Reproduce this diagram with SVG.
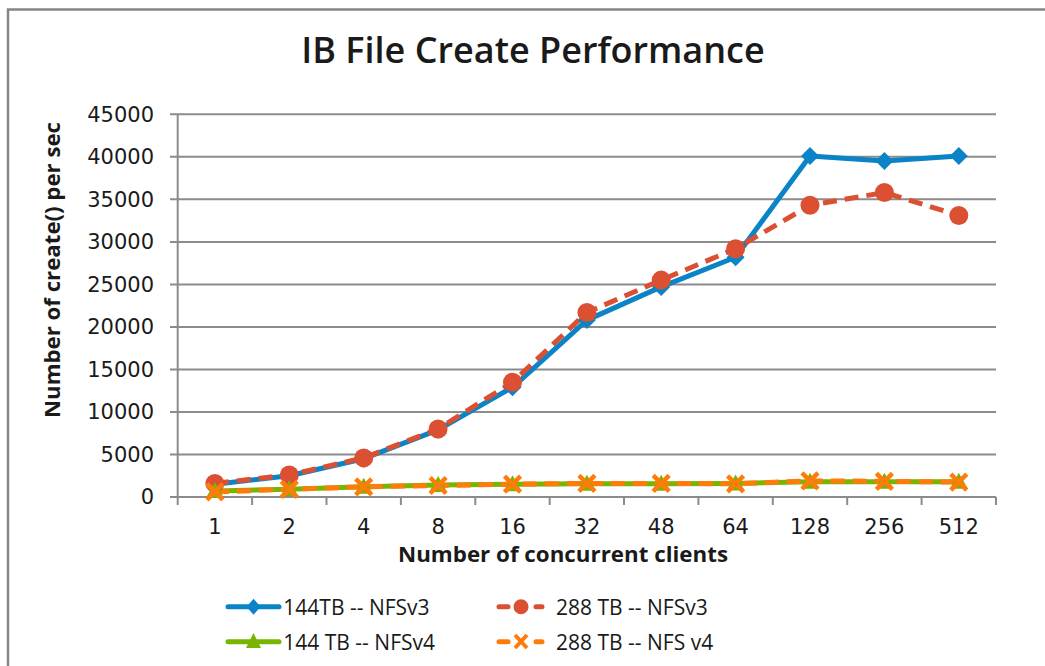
<svg xmlns="http://www.w3.org/2000/svg" width="1045" height="666" viewBox="0 0 1045 666">
<style>
.t{font-family:"Open Sans","Liberation Sans",sans-serif;fill:#1a1a1a}
.n{font-family:"DejaVu Sans","Liberation Sans",sans-serif;fill:#1a1a1a;font-size:21px}
.ytick{text-anchor:end}
.xtick{text-anchor:middle}
.grid{stroke:#8c8c8c;stroke-width:2;fill:none}
.blue{stroke:#0a84c6;stroke-width:5;fill:none;stroke-linejoin:round}
.red{stroke:#db5032;stroke-width:5;fill:none;stroke-dasharray:14,8}
.green{stroke:#78b400;stroke-width:5;fill:none;stroke-linejoin:round}
.orange{stroke:#ff7c0a;stroke-width:5;fill:none;stroke-dasharray:14,8}
.leg{font-size:21px}
</style>
<defs>
<path id="dia" d="M0,-9 L9,0 0,9 -9,0Z" fill="#0a84c6"/>
<circle id="cir" r="9.5" fill="#db5032"/>
<path id="tri" d="M0,-9 L9,7 -9,7Z" fill="#78b400"/>
<path id="xm" d="M-8,-8 L8,8 M-8,8 L8,-8" stroke="#ff7c0a" stroke-width="4.5" fill="none"/>
</defs>
<rect width="1045" height="666" fill="#fff"/>
<path d="M8,666 V9.5 H1045" stroke="#868686" stroke-width="2.5" fill="none"/>
<text class="t" x="533" y="63" font-size="36" font-weight="600" text-anchor="middle">IB File Create Performance</text>
<g id="axes">
<path class="grid" d="M170,114.3H996M170,156.8H996M170,199.3H996M170,241.9H996M170,284.4H996M170,326.9H996M170,369.4H996M170,411.9H996M170,454.5H996M170,497H996"/>
<path class="grid" d="M177.7,114.3V497M177.7,497V505M252.1,497V505M326.5,497V505M400.9,497V505M475.3,497V505M549.7,497V505M624,497V505M698.4,497V505M772.8,497V505M847.2,497V505M921.6,497V505M996,497V505"/>
</g>
<g id="ylabels" class="n ytick">
<text x="154" y="121.7">45000</text>
<text x="154" y="164.2">40000</text>
<text x="154" y="206.7">35000</text>
<text x="154" y="249.3">30000</text>
<text x="154" y="291.8">25000</text>
<text x="154" y="334.3">20000</text>
<text x="154" y="376.8">15000</text>
<text x="154" y="419.3">10000</text>
<text x="154" y="461.9">5000</text>
<text x="154" y="504.4">0</text>
</g>
<g id="xlabels" class="n xtick">
<text x="214.9" y="534.3">1</text>
<text x="289.3" y="534.3">2</text>
<text x="363.7" y="534.3">4</text>
<text x="438.1" y="534.3">8</text>
<text x="512.5" y="534.3">16</text>
<text x="586.9" y="534.3">32</text>
<text x="661.2" y="534.3">48</text>
<text x="735.6" y="534.3">64</text>
<text x="810" y="534.3">128</text>
<text x="884.4" y="534.3">256</text>
<text x="958.8" y="534.3">512</text>
</g>
<text class="t" x="398" y="562" font-size="21" font-weight="700" textLength="330" lengthAdjust="spacingAndGlyphs">Number of concurrent clients</text>
<text class="t" transform="translate(60,418) rotate(-90)" font-size="20.5" font-weight="700" textLength="296" lengthAdjust="spacingAndGlyphs">Number of create() per sec</text>
<g id="connectors">
<polyline id="s1" class="blue" points="214.9,484.2 289.3,475.7 363.7,458.7 438.1,429.8 512.5,387.3 586.9,320.1 661.2,286.9 735.6,257.2 810,155.9 884.4,161.1 958.8,155.9"/>
<polyline id="s2" class="red" points="214.9,483.4 289.3,474.9 363.7,457.9 438.1,429 512.5,382.2 586.9,312.5 661.2,280.1 735.6,248.7 810,205.3 884.4,192.5 958.8,215.5"/>
<polyline id="s3" class="green" points="214.9,491 289.3,489.3 363.7,486.8 438.1,485.1 512.5,484.2 586.9,483.8 661.2,483.8 735.6,483.4 810,481.7 884.4,481.7 958.8,481.7"/>
<polyline id="s4" class="orange" points="214.9,491.9 289.3,489.3 363.7,486.8 438.1,485.5 512.5,484.2 586.9,483.4 661.2,483.4 735.6,483.8 810,480.8 884.4,481.3 958.8,482.1"/>
</g>
<g id="markers1">
<use href="#dia" x="214.9" y="484.2"/><use href="#dia" x="289.3" y="475.7"/><use href="#dia" x="363.7" y="458.7"/><use href="#dia" x="438.1" y="429.8"/><use href="#dia" x="512.5" y="387.3"/><use href="#dia" x="586.9" y="320.1"/><use href="#dia" x="661.2" y="286.9"/><use href="#dia" x="735.6" y="257.2"/><use href="#dia" x="810" y="155.9"/><use href="#dia" x="884.4" y="161.1"/><use href="#dia" x="958.8" y="155.9"/>
</g>
<g id="markers2">
<use href="#cir" x="214.9" y="483.4"/><use href="#cir" x="289.3" y="474.9"/><use href="#cir" x="363.7" y="457.9"/><use href="#cir" x="438.1" y="429"/><use href="#cir" x="512.5" y="382.2"/><use href="#cir" x="586.9" y="312.5"/><use href="#cir" x="661.2" y="280.1"/><use href="#cir" x="735.6" y="248.7"/><use href="#cir" x="810" y="205.3"/><use href="#cir" x="884.4" y="192.5"/><use href="#cir" x="958.8" y="215.5"/>
</g>
<g id="markers3">
<use href="#tri" x="214.9" y="491"/><use href="#tri" x="289.3" y="489.3"/><use href="#tri" x="363.7" y="486.8"/><use href="#tri" x="438.1" y="485.1"/><use href="#tri" x="512.5" y="484.2"/><use href="#tri" x="586.9" y="483.8"/><use href="#tri" x="661.2" y="483.8"/><use href="#tri" x="735.6" y="483.4"/><use href="#tri" x="810" y="481.7"/><use href="#tri" x="884.4" y="481.7"/><use href="#tri" x="958.8" y="481.7"/>
</g>
<g id="markers4">
<use href="#xm" x="214.9" y="491.9"/><use href="#xm" x="289.3" y="489.3"/><use href="#xm" x="363.7" y="486.8"/><use href="#xm" x="438.1" y="485.5"/><use href="#xm" x="512.5" y="484.2"/><use href="#xm" x="586.9" y="483.4"/><use href="#xm" x="661.2" y="483.4"/><use href="#xm" x="735.6" y="483.8"/><use href="#xm" x="810" y="480.8"/><use href="#xm" x="884.4" y="481.3"/><use href="#xm" x="958.8" y="482.1"/>
</g>
<g id="legend">
<g id="leg1">
<line x1="228" y1="606.7" x2="279" y2="606.7" stroke="#0a84c6" stroke-width="5" stroke-linecap="round"/>
<path d="M253.5,598.7 l7,8 -7,8 -7,-8Z" fill="#0a84c6"/>
<text class="t leg" x="283.3" y="615">144TB -- NFSv3</text>
</g>
<g id="leg2">
<path d="M499,606.7H508M517,606.7H521M536,606.7H542" stroke="#db5032" stroke-width="5" stroke-linecap="round"/>
<circle cx="521" cy="606.7" r="7.5" fill="#db5032"/>
<text class="t leg" x="556" y="615">288 TB -- NFSv3</text>
</g>
<g id="leg3">
<line x1="228" y1="641.7" x2="279" y2="641.7" stroke="#78b400" stroke-width="5" stroke-linecap="round"/>
<path d="M253.5,633 l7.5,15 -15,0Z" fill="#78b400"/>
<text class="t leg" x="283.3" y="650">144 TB -- NFSv4</text>
</g>
<g id="leg4">
<path d="M499,641.7H508M536,641.7H542" stroke="#ff7c0a" stroke-width="5" stroke-linecap="round"/>
<path d="M515,635 L527,648 M515,648 L527,635" stroke="#ff7c0a" stroke-width="4" fill="none"/>
<text class="t leg" x="556" y="650">288 TB -- NFS v4</text>
</g>
</g>
</svg>
